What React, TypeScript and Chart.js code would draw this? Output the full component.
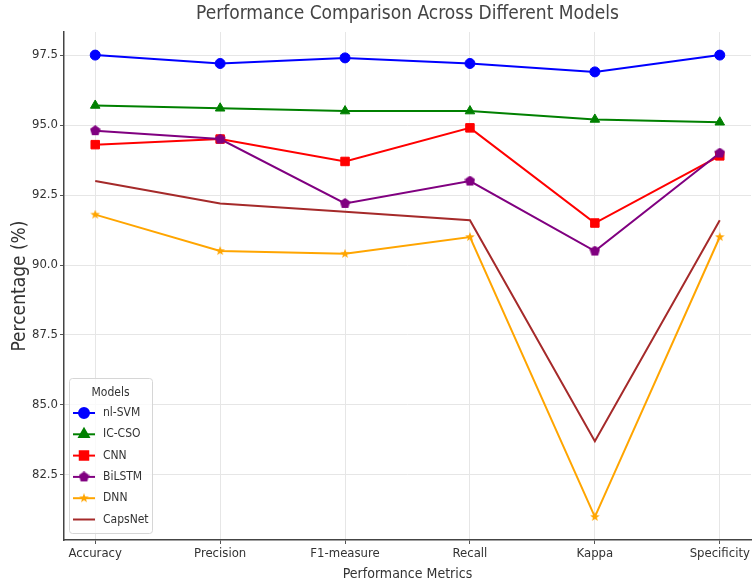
import React, { useEffect, useRef } from 'react';
import { Chart, registerables } from 'chart.js';
import { drawPoint } from 'chart.js/helpers';

Chart.register(...registerables);

const categories = ['Accuracy', 'Precision', 'F1-measure', 'Recall', 'Kappa', 'Specificity'];
const modelNames = ['nl-SVM', 'IC-CSO', 'CNN', 'BiLSTM', 'DNN', 'CapsNet'];
const nlSVM = [97.5, 97.2, 97.4, 97.2, 96.9, 97.5];
const icCSO = [95.7, 95.6, 95.5, 95.5, 95.2, 95.1];
const cnn = [94.3, 94.5, 93.7, 94.9, 91.5, 93.9];
const bilstm = [94.8, 94.5, 92.2, 93.0, 90.5, 94.0];
const dnn = [91.8, 90.5, 90.4, 91.0, 81.0, 91.0];
const capsNet = [93.0, 92.2, 91.9, 91.6, 83.7, 91.6];
const yTicks = [82.5, 85.0, 87.5, 90.0, 92.5, 95.0, 97.5];

const FONT = "'DejaVu Sans Condensed', 'DejaVu Sans', sans-serif";
const TEXT = '#333333';

function makeShape(kind: string, size: number, color: string): HTMLCanvasElement {
  const c = document.createElement('canvas');
  c.width = size;
  c.height = size;
  const g = c.getContext('2d')!;
  g.fillStyle = color;
  g.beginPath();
  const n = kind === 'star' ? 10 : 5;
  const R = size / 2;
  for (let i = 0; i < n; i++) {
    const a = -Math.PI / 2 + (i * 2 * Math.PI) / n;
    const r = kind === 'star' && i % 2 === 1 ? R * 0.42 : R;
    const px = R + r * Math.cos(a);
    const py = R + r * Math.sin(a);
    if (i === 0) g.moveTo(px, py);
    else g.lineTo(px, py);
  }
  g.closePath();
  g.fill();
  return c;
}

const legendPlugin = {
  id: 'modelsLegend',
  afterDraw(chart: any) {
    const ctx = chart.ctx as CanvasRenderingContext2D;
    const area = chart.chartArea;
    const boxW = 83;
    const boxH = 155;
    const x0 = area.left + 5;
    const y0 = area.bottom - 7 - boxH;
    ctx.save();
    ctx.beginPath();
    (ctx as any).roundRect(x0 + 0.5, y0 + 0.5, boxW, boxH, 3);
    ctx.fillStyle = 'rgba(255,255,255,0.8)';
    ctx.fill();
    ctx.strokeStyle = '#d6d6d6';
    ctx.lineWidth = 1;
    ctx.stroke();
    ctx.fillStyle = TEXT;
    ctx.font = `12px ${FONT}`;
    ctx.textAlign = 'center';
    ctx.textBaseline = 'middle';
    ctx.fillText('Models', x0 + boxW / 2, y0 + 15);
    chart.data.datasets.forEach((ds: any, i: number) => {
      const y = y0 + 35 + i * 21.3;
      ctx.strokeStyle = ds.borderColor;
      ctx.lineWidth = 2;
      ctx.beginPath();
      ctx.moveTo(x0 + 4, y);
      ctx.lineTo(x0 + 26, y);
      ctx.stroke();
      if (ds.pointRadius > 0) {
        ctx.fillStyle = ds.pointBackgroundColor;
        ctx.strokeStyle = ds.pointBackgroundColor;
        drawPoint(ctx, { pointStyle: ds.pointStyle, radius: ds.pointRadius, rotation: 0, borderWidth: 1 }, x0 + 15, y);
      }
      ctx.fillStyle = TEXT;
      ctx.font = `12px ${FONT}`;
      ctx.textAlign = 'left';
      ctx.fillText(ds.label, x0 + 34, y);
    });
    ctx.restore();
  },
};

export default function App() {
  const ref = useRef<HTMLCanvasElement | null>(null);

  useEffect(() => {
    document.body.style.margin = '0';
    const canvas = ref.current!;
    const pentagon = makeShape('pentagon', 11, '#800080');
    const star = makeShape('star', 10, '#FFA500');

    const series = [nlSVM, icCSO, cnn, bilstm, dnn, capsNet];
    const colors = ['#0000FF', '#008000', '#FF0000', '#800080', '#FFA500', '#A52A2A'];
    const styles: any[] = ['circle', 'triangle', 'rect', pentagon, star, 'circle'];
    const radii = [5, 5.5, 6, 5, 5, 0];

    const datasets = series.map((vals, k) => ({
      label: modelNames[k],
      data: vals.map((v, i) => ({ x: i, y: v })),
      borderColor: colors[k],
      backgroundColor: colors[k],
      pointBackgroundColor: colors[k],
      pointBorderColor: colors[k],
      pointBorderWidth: 1,
      borderWidth: 2,
      pointStyle: styles[k],
      pointRadius: radii[k],
      tension: 0,
      order: series.length - k,
    }));

    const chart = new Chart(canvas, {
      type: 'line',
      data: { datasets },
      plugins: [legendPlugin],
      options: {
        animation: false,
        responsive: false,
        devicePixelRatio: 1,
        layout: { autoPadding: false, padding: { left: 0, right: 1, top: 0, bottom: 0 } },
        plugins: {
          legend: { display: false },
          tooltip: { enabled: false },
          title: {
            display: true,
            fullSize: false,
            text: 'Performance Comparison Across Different Models',
            color: '#444444',
            font: { family: FONT, size: 19, weight: 'normal' },
            padding: { top: 3, bottom: 6.2 },
          },
        },
        scales: {
          x: {
            type: 'linear',
            min: -0.25,
            max: 5.25,
            afterBuildTicks: (scale: any) => {
              scale.ticks = categories.map((_, i) => ({ value: i }));
            },
            afterFit: (scale: any) => {
              scale.height = 46;
              scale.paddingLeft = 0;
              scale.paddingRight = 0;
            },
            ticks: {
              autoSkip: false,
              maxRotation: 0,
              padding: 2,
              color: TEXT,
              font: { family: FONT, size: 13 },
              callback: (v: any) => categories[Math.round(Number(v))] ?? '',
            },
            grid: { color: '#e6e6e6', lineWidth: 1, tickLength: 4, tickColor: '#555555' },
            border: { display: true, color: '#444444', width: 1.5 },
            title: {
              display: true,
              text: 'Performance Metrics',
              color: TEXT,
              font: { family: FONT, size: 14 },
              padding: { top: 0, bottom: 3 },
            },
          },
          y: {
            type: 'linear',
            min: 80.175,
            max: 98.325,
            afterBuildTicks: (scale: any) => {
              scale.ticks = yTicks.map((v) => ({ value: v }));
            },
            afterFit: (scale: any) => {
              scale.width = 64;
              scale.paddingTop = 0;
              scale.paddingBottom = 0;
            },
            ticks: {
              padding: 2,
              color: TEXT,
              font: { family: FONT, size: 13 },
              callback: (v: any) => Number(v).toFixed(1),
            },
            grid: { color: '#e6e6e6', lineWidth: 1, tickLength: 4, tickColor: '#555555' },
            border: { display: true, color: '#444444', width: 1.5 },
            title: {
              display: true,
              text: 'Percentage (%)',
              color: TEXT,
              font: { family: FONT, size: 19 },
              padding: { top: 8.6, bottom: 0 },
            },
          },
        },
      },
    } as any);

    return () => chart.destroy();
  }, []);

  return (
    <div style={{ width: 752, height: 586 }}>
      <canvas ref={ref} width={752} height={586} />
    </div>
  );
}
